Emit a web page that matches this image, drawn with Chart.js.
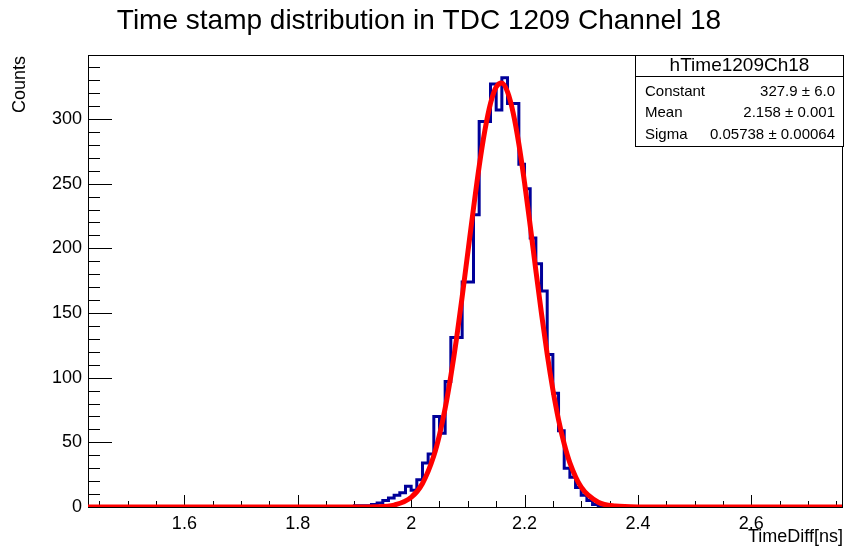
<!DOCTYPE html>
<html>
<head>
  <meta charset="utf-8">
  <title>Time stamp distribution in TDC 1209 Channel 18</title>
  <style>
    * { margin: 0; padding: 0; }
    body { background: #fff; }
    #chart { display: block; }
  </style>
  <script src="https://cdn.jsdelivr.net/npm/chart.js"></script>
</head>
<body>
  <canvas id="chart" width="848" height="552"></canvas>
  <script>
    // histogram: bins of 0.01 ns, first listed bin starts at 1.90
    const binStart = 1.90;
    const binWidth = 0.01;
    const counts = [1, 1, 1, 2, 3, 5, 7, 9, 11, 16,
                    13, 21, 34, 41, 70, 57, 97, 131, 131, 174,
                    174, 226, 298, 298, 327, 307, 332, 312, 312, 265,
                    246, 208, 188, 167, 118, 88, 59, 30, 23, 15,
                    9, 5, 2, 1, 1];

    // fit curve
    const fitX = [1.43, 1.80, 1.90, 1.94, 1.97, 2.00, 2.02, 2.04, 2.05, 2.06, 2.07, 2.08, 2.09, 2.10, 2.11,
                  2.12, 2.13, 2.14, 2.15, 2.16, 2.17, 2.18, 2.19, 2.20, 2.21, 2.22, 2.23, 2.24, 2.25,
                  2.26, 2.27, 2.28, 2.30, 2.33, 2.36, 2.40, 2.76];
    const fitY = [0, 0, 0.01, 0.2, 1.5, 7.4, 18.2, 39.6, 55.8, 76.3, 101.3, 130, 162.6, 196.8, 231,
                  263.4, 291, 312.1, 324.8, 327.8, 320.9, 304.7, 280.7, 250.9, 217.6, 182.9, 149.3, 118.1, 90.8,
                  67.5, 48.8, 34.2, 15.3, 3.7, 0.7, 0.04, 0];

    const xTicks = [1.6, 1.8, 2.0, 2.2, 2.4, 2.6];
    const yTicks = [0, 50, 100, 150, 200, 250, 300];
    const xMin = 1.43, xMax = 2.76, yMax = 349.5;

    const statsTitle = 'hTime1209Ch18';
    const statsNames = ['Constant', 'Mean', 'Sigma'];
    const statsValues = ['327.9 \u00b1 6.0', '2.158 \u00b1 0.001', '0.05738 \u00b1 0.00064'];

    const FONT = '"Liberation Sans", Arial, Helvetica, sans-serif';

    // step points for the histogram outline (value holds until the next edge)
    const histPoints = [{ x: xMin, y: 0 }];
    counts.forEach((c, i) => histPoints.push({ x: binStart + i * binWidth, y: c }));
    histPoints.push({ x: binStart + counts.length * binWidth, y: 0 });
    histPoints.push({ x: xMax, y: 0 });

    const fitPoints = fitX.map((x, i) => ({ x: x, y: fitY[i] }));

    // frame, ROOT-like inner ticks, titles and the stats box
    const rootPlot = {
      id: 'rootPlot',
      beforeDatasetsDraw(chart) {
        const { ctx, chartArea: a, scales: { x, y } } = chart;
        ctx.save();
        ctx.strokeStyle = '#000';
        ctx.lineWidth = 1;
        ctx.strokeRect(a.left + 0.5, a.top + 0.5, a.right - a.left, a.bottom - a.top);
        ctx.beginPath();
        for (let v = 0; v <= yMax; v += 10) {
          const py = Math.round(y.getPixelForValue(v)) + 0.5;
          const len = v % 50 === 0 ? 24 : 12;
          ctx.moveTo(a.left, py);
          ctx.lineTo(a.left + len, py);
        }
        for (let k = Math.ceil(xMin / 0.05); k * 0.05 <= xMax; k++) {
          const px = Math.round(x.getPixelForValue(k * 0.05)) + 0.5;
          const len = k % 4 === 0 ? 12 : 6;
          ctx.moveTo(px, a.bottom);
          ctx.lineTo(px, a.bottom - len);
        }
        ctx.stroke();
        ctx.restore();
      },
      afterDraw(chart) {
        const { ctx } = chart;
        ctx.save();
        ctx.fillStyle = '#000';
        // title
        ctx.font = '28px ' + FONT;
        ctx.textAlign = 'center';
        ctx.textBaseline = 'middle';
        ctx.fillText('Time stamp distribution in TDC 1209 Channel 18', 419, 21);
        // axis titles
        ctx.font = '18px ' + FONT;
        ctx.textAlign = 'right';
        ctx.fillText('TimeDiff[ns]', 843, 537);
        ctx.save();
        ctx.translate(20, 56);
        ctx.rotate(-Math.PI / 2);
        ctx.textAlign = 'right';
        ctx.fillText('Counts', 0, 0);
        ctx.restore();
        // stats box
        const bx = 635.5, by = 55.5, bw = 208, bh = 91;
        ctx.fillStyle = '#fff';
        ctx.fillRect(bx, by, bw, bh);
        ctx.strokeStyle = '#000';
        ctx.lineWidth = 1;
        ctx.strokeRect(bx, by, bw, bh);
        ctx.beginPath();
        ctx.moveTo(bx, 76.5);
        ctx.lineTo(bx + bw, 76.5);
        ctx.stroke();
        ctx.fillStyle = '#000';
        ctx.font = '19px ' + FONT;
        ctx.textAlign = 'center';
        ctx.fillText(statsTitle, bx + bw / 2, 66);
        ctx.font = '15px ' + FONT;
        statsNames.forEach((n, i) => {
          const ty = 91.5 + i * 21.7;
          ctx.textAlign = 'left';
          ctx.fillText(n, 645, ty);
          ctx.textAlign = 'right';
          ctx.fillText(statsValues[i], 835, ty);
        });
        ctx.restore();
      }
    };

    const ctx = document.getElementById('chart').getContext('2d');
    new Chart(ctx, {
      type: 'line',
      data: {
        datasets: [
          {
            label: 'fit',
            data: fitPoints,
            borderColor: '#ff0000',
            borderWidth: 5,
            pointRadius: 0,
            cubicInterpolationMode: 'monotone',
            fill: false
          },
          {
            label: 'hTime1209Ch18',
            data: histPoints,
            borderColor: '#000099',
            borderWidth: 3,
            pointRadius: 0,
            stepped: 'before',
            fill: false
          }
        ]
      },
      options: {
        responsive: false,
        animation: false,
        devicePixelRatio: 1,
        layout: { padding: { left: 0, right: 6, top: 55, bottom: 0 } },
        plugins: {
          legend: { display: false },
          title: { display: false },
          tooltip: { enabled: false }
        },
        scales: {
          x: {
            type: 'linear',
            min: xMin,
            max: xMax,
            grid: { display: false, drawTicks: false },
            border: { display: false },
            afterBuildTicks: (s) => { s.ticks = xTicks.map(v => ({ value: v })); },
            afterFit: (s) => { s.height = 45; },
            ticks: {
              padding: 6,
              color: '#000',
              font: { family: FONT, size: 18 },
              maxRotation: 0,
              callback: (v) => String(+v.toFixed(1))
            }
          },
          y: {
            type: 'linear',
            min: 0,
            max: yMax,
            grid: { display: false, drawTicks: false },
            border: { display: false },
            afterBuildTicks: (s) => { s.ticks = yTicks.map(v => ({ value: v })); },
            afterFit: (s) => { s.width = 88; },
            ticks: {
              padding: 6,
              color: '#000',
              font: { family: FONT, size: 18 },
              callback: (v) => String(v)
            }
          }
        }
      },
      plugins: [rootPlot]
    });
  </script>
</body>
</html>
